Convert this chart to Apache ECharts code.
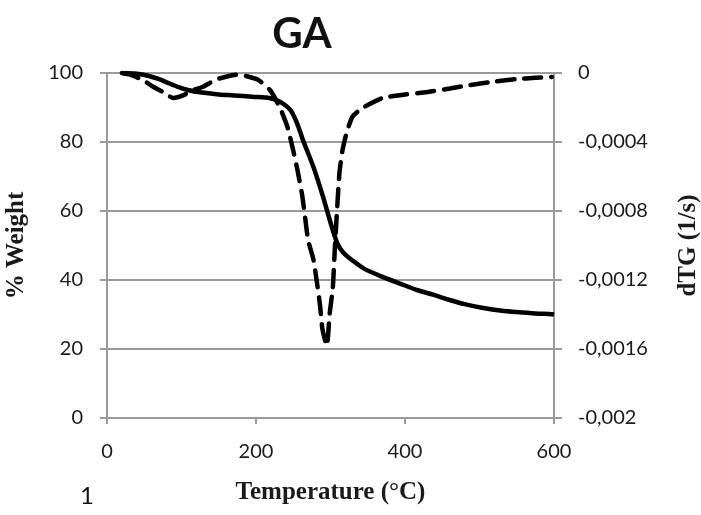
<!DOCTYPE html>
<html>
<head>
<meta charset="utf-8">
<script src="https://cdn.jsdelivr.net/npm/echarts@6/dist/echarts.min.js"></script>
<style>
  html, body { margin: 0; padding: 0; background: #fff; }
  #chart { width: 701px; height: 515px; }
</style>
</head>
<body>
<div id="chart"></div>
<script>
// TG curve (% weight, left axis)
var tgTemp = [20, 40, 55, 70, 80, 95, 110, 125, 150, 170, 195, 219, 232, 246, 255, 263, 277, 290, 299, 309, 317, 330, 345, 370, 400, 416, 440, 460, 480, 505, 530, 550, 575, 597, 600];
var tgWeight = [100, 99.8, 99.2, 98.2, 97.3, 96.0, 95.0, 94.4, 93.8, 93.5, 93.1, 92.7, 91.7, 89.3, 85.5, 80.6, 72.8, 64.1, 57.4, 50.7, 48.0, 45.6, 43.3, 40.9, 38.4, 37.1, 35.6, 34.2, 33, 31.9, 31.1, 30.7, 30.3, 30.1, 30.0];

// DTG curve (1/s, right axis)
var dtgTemp = [20, 31, 48, 62, 75, 89, 102, 115, 129, 145, 161, 174, 189, 203, 219, 232, 242, 250, 256, 262, 266, 270, 277, 282, 286, 289, 295, 299, 303, 306, 309, 312, 316, 322, 330, 344, 370, 400, 430, 460, 487, 520, 550, 575, 597];
var dtgRate = [0, -0.00001, -0.00004, -0.00008, -0.00011, -0.000145, -0.00013, -0.0001, -0.00008, -0.00004, -0.00002, -0.00001, -0.00002, -0.00004, -0.0001, -0.0002, -0.00031, -0.00045, -0.00057, -0.00071, -0.00084, -0.00097, -0.00108, -0.00122, -0.00135, -0.00148, -0.00158, -0.00139, -0.00125, -0.001, -0.00078, -0.00058, -0.00045, -0.00034, -0.00025, -0.0002, -0.000145, -0.000125, -0.00011, -0.00009, -0.00007, -0.00005, -0.000035, -0.000028, -0.000023];

var chart = echarts.init(document.getElementById('chart'));

var axisGray = '#9a9a9a';
var labelFont = { fontFamily: 'Lato', fontSize: 20, color: '#1a1a1a' };
var nameFont = { fontFamily: 'Liberation Serif', fontSize: 25, fontWeight: 'bold', color: '#1a1a1a' };

function pairs(xs, ys) {
    return xs.map(function (x, i) { return [x, ys[i]]; });
}

var option = {
    animation: false,
    title: {
        text: 'GA',
        left: 297,
        top: 8,
        textAlign: 'center',
        textStyle: { fontFamily: 'Lato', fontSize: 42, fontWeight: 'bold', color: '#111' }
    },
    graphic: [{
        type: 'text',
        left: 80,
        top: 484,
        style: { text: '1', font: '24px Lato', fill: '#111' }
    }],
    grid: { left: 107, right: 147, top: 73, bottom: 97, containLabel: false, outerBoundsMode: 'none' },
    xAxis: {
        type: 'value',
        min: 0, max: 600, interval: 200,
        name: 'Temperature (°C)',
        nameLocation: 'middle',
        nameGap: 62,
        nameTextStyle: nameFont,
        axisLine: { show: true, lineStyle: { color: axisGray, width: 2 } },
        axisTick: { show: true, length: 6, lineStyle: { color: axisGray, width: 2 } },
        axisLabel: Object.assign({ margin: 24 }, labelFont),
        splitLine: { show: false }
    },
    yAxis: [{
        type: 'value',
        min: 0, max: 100, interval: 20,
        name: '% Weight',
        nameLocation: 'middle',
        nameRotate: 90,
        nameGap: 78,
        nameTextStyle: nameFont,
        axisLine: { show: true, lineStyle: { color: axisGray, width: 2 } },
        axisTick: { show: true, length: 7, lineStyle: { color: axisGray, width: 2 } },
        axisLabel: Object.assign({ margin: 24 }, labelFont),
        splitLine: { show: true, lineStyle: { color: axisGray, width: 2 } }
    }, {
        type: 'value',
        min: -0.002, max: 0, interval: 0.0004,
        position: 'right',
        name: 'dTG (1/s)',
        nameLocation: 'middle',
        nameRotate: 90,
        nameGap: 122,
        nameTextStyle: nameFont,
        axisLine: { show: true, lineStyle: { color: axisGray, width: 2 } },
        axisTick: { show: true, length: 8, lineStyle: { color: axisGray, width: 2 } },
        axisLabel: Object.assign({
            margin: 24,
            formatter: function (v) {
                if (Math.abs(v) < 1e-9) return '0';
                return String(parseFloat(v.toFixed(4))).replace('.', ',');
            }
        }, labelFont),
        splitLine: { show: false }
    }],
    series: [{
        name: 'TG',
        type: 'line',
        yAxisIndex: 0,
        data: pairs(tgTemp, tgWeight),
        smooth: 0.3,
        showSymbol: false,
        lineStyle: { color: '#000', width: 4.5 }
    }, {
        name: 'DTG',
        type: 'line',
        yAxisIndex: 1,
        data: pairs(dtgTemp, dtgRate),
        smooth: 0.2,
        showSymbol: false,
        lineStyle: { color: '#000', width: 4.5, type: [17, 10], cap: 'round' }
    }]
};

chart.setOption(option);
</script>
</body>
</html>
